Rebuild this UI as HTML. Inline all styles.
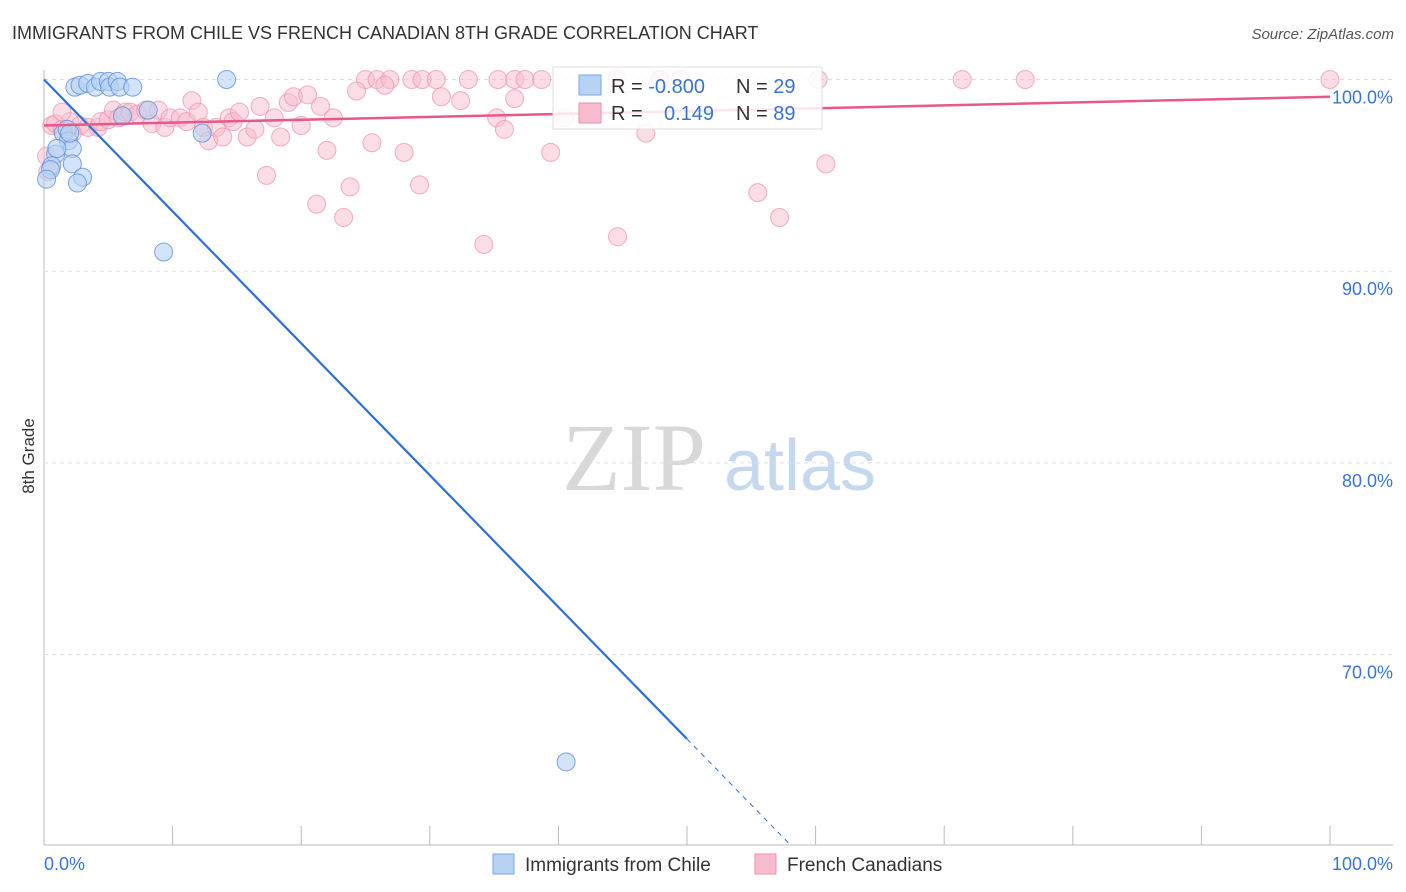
<!DOCTYPE html>
<html><head><meta charset="utf-8"><style>
body{margin:0;background:#fff;font-family:"Liberation Sans",sans-serif;}
#wrap{position:relative;width:1406px;height:892px;overflow:hidden}
</style></head><body><div id="wrap">
<svg id="svg" width="1406" height="892" xmlns="http://www.w3.org/2000/svg">
<text x="12" y="39" font-size="18" fill="#333">IMMIGRANTS FROM CHILE VS FRENCH CANADIAN 8TH GRADE CORRELATION CHART</text>
<text x="1394" y="39" font-size="15" fill="#555" font-style="italic" text-anchor="end">Source: ZipAtlas.com</text>
<text x="634" y="490" font-size="96" fill="#d8d8d8" font-family="Liberation Serif" text-anchor="middle">ZIP</text>
<text x="800" y="490" font-size="72" fill="#c6d8ef" text-anchor="middle">atlas</text>
<text transform="translate(34,456) rotate(-90)" font-size="17" fill="#333" text-anchor="middle">8th Grade</text>
<g id="grid"></g><g id="pts"></g><g id="lines"></g>
<g>
<rect x="553" y="67" width="269" height="62" fill="#fff" fill-opacity="0.85" stroke="#ddd"/>
<rect x="579" y="75" width="22" height="20" fill="#b8d2f3" stroke="#7aa8e0"/>
<rect x="579" y="103" width="22" height="20" fill="#f7bccd" stroke="#ec8fab"/>
<text x="611" y="93" font-size="20" fill="#333">R = <tspan fill="#3a74d0">-0.800</tspan></text>
<text x="736" y="93" font-size="20" fill="#333">N = <tspan fill="#3a74d0">29</tspan></text>
<text x="611" y="120" font-size="20" fill="#333">R = <tspan x="664" fill="#3a74d0">0.149</tspan></text>
<text x="736" y="120" font-size="20" fill="#333">N = <tspan fill="#3a74d0">89</tspan></text>
</g>
<g>
<rect x="493" y="854" width="21" height="20" fill="#b8d2f3" stroke="#7aa8e0"/>
<text x="525" y="871" font-size="19" fill="#333">Immigrants from Chile</text>
<rect x="755" y="854" width="21" height="20" fill="#f7bccd" stroke="#ec8fab"/>
<text x="787" y="871" font-size="19" fill="#333">French Canadians</text>
</g>
</svg>
<script>
const yTicks=[100,90,80,70];
const yTickLabels=["100.0%","90.0%","80.0%","70.0%"];
const xTicks=[0,10,20,30,40,50,60,70,80,90,100];
const xTickLabels=["0.0%","100.0%"];
const chileX=[2.4,2.8,3.4,4,4.4,5,5.1,5.7,5.9,6.9,14.2,8.1,6.1,12.3,1.5,1.8,1.9,2.2,2,0.9,1,2.2,0.6,0.5,3,2.6,9.3,40.6,0.2];
const chileY=[99.6,99.7,99.8,99.6,99.9,99.9,99.6,99.9,99.6,99.6,100,98.4,98.1,97.2,97.2,97.4,96.8,96.4,97.2,96.1,96.4,95.6,95.5,95.3,94.9,94.6,91,64.4,94.8];
const frX=[25,25.9,26.9,28.6,29.4,30.5,33,35.3,36.6,37.4,38.7,44.6,47.9,49.5,60.2,71.4,76.3,100,26.5,24.3,30.9,32.4,36.6,57.6,47.9,
0.6,0.9,1.4,2,2.8,3.4,4.2,4.4,5,5.4,5.8,6.3,6.7,7.3,7.9,8.4,8.9,9.4,9.8,10.6,11.1,11.5,12,12.4,12.8,13.4,13.9,14.4,14.7,15.2,15.8,16.4,16.8,17.3,17.9,18.4,19,19.4,20,20.5,21.2,21.5,22,22.5,23.3,23.8,25.5,28,29.2,34.2,35.2,35.8,39.4,40.5,42.5,44.6,46.8,55.5,57.2,60.8,0.3,0.2,1.4,2.2];
const frY=[100,100,100,100,100,100,100,100,100,100,100,100,100,100,100,100,100,100,99.7,99.4,99.1,98.9,99,99.6,100,
97.6,97.7,97.4,97.8,97.6,97.5,97.5,97.8,97.9,98.4,98,98.3,98.3,98.2,98.4,97.7,98.4,97.5,98,98,97.8,98.9,98.3,97.5,96.8,97.5,97,98,97.8,98.3,97,97.4,98.6,95,98,97,98.8,99.1,97.6,99.2,93.5,98.6,96.3,98,92.8,94.4,96.7,96.2,94.5,91.4,98,97.4,96.2,98,98.2,91.8,97.2,94.1,92.8,95.6,95.2,96,98.3,97.2];
const X0=44,X1=1330,Y100=79.5,PXPCT=19.17;
const sx=v=>X0+(X1-X0)*v/100;
const sy=v=>Y100+(100-v)*PXPCT;
const NS="http://www.w3.org/2000/svg";
function mk(tag,attrs,parent){const e=document.createElementNS(NS,tag);for(const k in attrs)e.setAttribute(k,attrs[k]);parent.appendChild(e);return e;}
const grid=document.getElementById('grid');
let ax=mk('line',{x1:44,y1:845,x2:1393,y2:845,stroke:'#bbb'},grid);


ax=mk('line',{x1:44,y1:70,x2:44,y2:845,stroke:'#bbb'},grid);


yTicks.forEach((t,i)=>{
 const l=mk('line',{x1:44,y1:sy(t),x2:1393,y2:sy(t),stroke:'#ddd','stroke-dasharray':'4,4'},grid);
 
 
 const tx=mk('text',{x:1393,y:sy(t)+24,'font-size':18,fill:'#3a74d0','text-anchor':'end'},grid);
 tx.textContent=yTickLabels[i];
 
 
});
xTicks.forEach(t=>{
 const l=mk('line',{x1:sx(t),y1:826,x2:sx(t),y2:845,stroke:'#bbb'},grid);
 
 
});
[[0,'start',44],[100,'end',1393]].forEach((a,i)=>{
 const tx=mk('text',{x:a[2],y:870,'font-size':18,fill:'#3a74d0','text-anchor':a[1]},grid);
 tx.textContent=xTickLabels[i];
 
 
});
const pts=document.getElementById('pts');
frX.forEach((v,i)=>{
 const c=mk('circle',{cx:sx(v),cy:sy(frY[i]),r:9,fill:'#f7bccd','fill-opacity':0.5,stroke:'#ec8fab','stroke-opacity':0.7},pts);
 
 
});
chileX.forEach((v,i)=>{
 const c=mk('circle',{cx:sx(v),cy:sy(chileY[i]),r:9,fill:'#b8d2f3','fill-opacity':0.6,stroke:'#5b8fd8','stroke-opacity':0.8},pts);
 
 
});
const lines=document.getElementById('lines');
let l=mk('line',{x1:sx(0),y1:sy(100),x2:sx(50),y2:sy(65.6),stroke:'#2f6fd6','stroke-width':2.2},lines);


l=mk('line',{x1:sx(50),y1:sy(65.6),x2:sx(58),y2:sy(60.1),stroke:'#2f6fd6','stroke-width':1,'stroke-dasharray':'5,5'},lines);


l=mk('line',{x1:sx(0),y1:sy(97.6),x2:sx(100),y2:sy(99.1),stroke:'#e8588a','stroke-width':2.5},lines);


</script>
</div></body></html>
